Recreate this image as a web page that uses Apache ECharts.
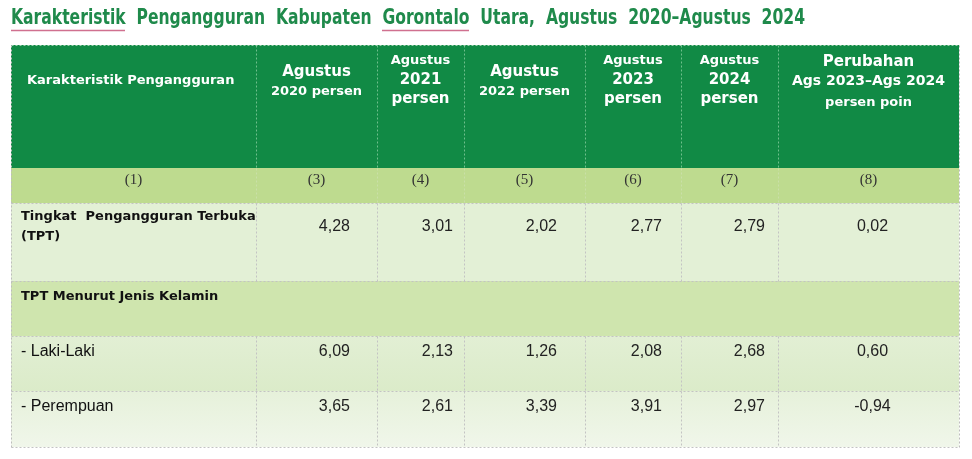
<!DOCTYPE html>
<html><head><meta charset="utf-8">
<script src="https://cdn.jsdelivr.net/npm/echarts@6/dist/echarts.min.js"></script>
<style>html,body{margin:0;padding:0;background:#fff}#c{width:972px;height:459px}</style>
</head><body><div id="c"></div>
<script>
// ---------- data ----------
const titleText = 'Karakteristik  Pengangguran  Kabupaten  Gorontalo  Utara,  Agustus  2020–Agustus  2024';
const headerLines = [
  ['Karakteristik Pengangguran'],
  ['Agustus', '2020 persen'],
  ['Agustus', '2021', 'persen'],
  ['Agustus', '2022 persen'],
  ['Agustus', '2023', 'persen'],
  ['Agustus', '2024', 'persen'],
  ['Perubahan', 'Ags 2023–Ags 2024', 'persen poin']
];
const columnNumbers = ['(1)', '(3)', '(4)', '(5)', '(6)', '(7)', '(8)'];
const rowLabels = ['Tingkat  Pengangguran Terbuka\n(TPT)', 'TPT Menurut Jenis Kelamin', '- Laki-Laki', '- Perempuan'];
const rowBold = [true, true, false, false];
const aug2020 = [4.28, null, 6.09, 3.65];
const aug2021 = [3.01, null, 2.13, 2.61];
const aug2022 = [2.02, null, 1.26, 3.39];
const aug2023 = [2.77, null, 2.08, 3.91];
const aug2024 = [2.79, null, 2.68, 2.97];
const changePts = [0.02, null, 0.60, -0.94];
const valueColumns = [aug2020, aug2021, aug2022, aug2023, aug2024, changePts];

// ---------- layout (table units) ----------
const colEdges = [0, 245, 366, 453, 574, 670, 767, 948];
const rowEdges = [0, 123, 158, 236, 291, 346, 402];
const textY = [35, 135, 182, 252, 307, 362];
const valueRightPad = [27, 11, 28, 19, 13];
const headerSizes = [['h13'], ['h15', 'h13'], ['h13', 'h15', 'h15'], ['h15', 'h13'], ['h13', 'h15', 'h15'], ['h13', 'h15', 'h15'], ['h15', 'h14', 'p13']];
const headerYOffset = [1, 2, 0, 2, 0, 0, 4];
const rowsWithVLines = [0, 1, 2, 4, 5];

const W = colEdges[colEdges.length - 1], H = rowEdges[rowEdges.length - 1];
const fmt = v => v == null ? '' : v.toFixed(2).replace('.', ',');
const grad = (a, b) => new echarts.graphic.LinearGradient(0, 0, 0, 1, [{offset: 0, color: a}, {offset: 1, color: b}]);
const rowFills = ['#118a45', '#bedb8f', '#e3f0d6', '#cfe5ae', grad('#e2efd4', '#dbebc9'), grad('#e6f1da', '#f0f6ea')];

// text cells
const cells = [];
headerLines.forEach((lines, c) => cells.push({col: c, row: 0, kind: 'head', lines, sizes: headerSizes[c]}));
columnNumbers.forEach((t, c) => cells.push({col: c, row: 1, kind: 'num', text: t}));
rowLabels.forEach((t, r) => cells.push({col: 0, row: r + 2, kind: 'label', text: t, bold: rowBold[r]}));
valueColumns.forEach((arr, k) => arr.forEach((v, r) => {
  if (v != null) cells.push({col: k + 1, row: r + 2, kind: k === 5 ? 'change' : 'value', text: fmt(v)});
}));

// lines
const segs = [];
rowsWithVLines.forEach(r => { for (let c = 1; c < colEdges.length - 1; c++) segs.push({type: r === 0 ? 'vh' : (r === 1 ? 'v1' : 'v'), x0: colEdges[c], x1: colEdges[c], y0: rowEdges[r], y1: rowEdges[r + 1]}); });
for (let r = 2; r < rowEdges.length - 1; r++) segs.push({type: 'h', x0: 0, x1: W, y0: rowEdges[r], y1: rowEdges[r]});
segs.push({type: 'ho', x0: 0, x1: W, y0: 0, y1: 0});
segs.push({type: 'vo', x0: 0, x1: 0, y0: 0, y1: H});
segs.push({type: 'vo', x0: W, x1: W, y0: 0, y1: H});
segs.push({type: 'h', x0: 0, x1: W, y0: H, y1: H});
const segStyle = {
  vh: {stroke: '#6fbf8c', lineWidth: 1, lineDash: [2, 2]},
  v1: {stroke: '#c9e0a8', lineWidth: 1, lineDash: [2, 2]},
  v: {stroke: '#c3c3c3', lineWidth: 1, lineDash: [2, 2]},
  h: {stroke: '#c3c3c3', lineWidth: 1, lineDash: [2, 2]},
  ho: {stroke: '#9fd0b0', lineWidth: 1, lineDash: [2, 2]},
  vo: {stroke: '#bdbdbd', lineWidth: 1, lineDash: [2, 2]}
};

const hf = 'DejaVu Sans';
const rich = {
  h13: {fontSize: 13, fontWeight: 'bold', fontFamily: hf, lineHeight: 19, color: '#fff'},
  h14: {fontSize: 14, fontWeight: 'bold', fontFamily: hf, lineHeight: 19, color: '#fff'},
  h15: {fontSize: 15, fontWeight: 'bold', fontFamily: hf, lineHeight: 19, color: '#fff'},
  p13: {fontSize: 13, fontWeight: 'bold', fontFamily: hf, lineHeight: 24, color: '#fff'}
};

const chart = echarts.init(document.getElementById('c'));
chart.setOption({
  animation: false,
  backgroundColor: '#ffffff',
  grid: {left: 11, top: 45, width: W, height: H},
  xAxis: {type: 'value', min: 0, max: W, show: false},
  yAxis: {type: 'value', min: 0, max: H, inverse: true, show: false},
  series: [
    {
      type: 'custom', clip: false, silent: true,
      data: rowFills.map((f, i) => [0, i]),
      renderItem(params, api) {
        const i = params.dataIndex;
        const p0 = api.coord([0, rowEdges[i]]), p1 = api.coord([W, rowEdges[i + 1]]);
        return {type: 'rect', shape: {x: p0[0], y: p0[1], width: p1[0] - p0[0], height: p1[1] - p0[1]}, style: {fill: rowFills[i]}};
      }
    },
    {
      type: 'custom', clip: false, silent: true,
      data: segs.map(s => [s.x0, s.y0]),
      renderItem(params, api) {
        const s = segs[params.dataIndex];
        const a = api.coord([s.x0, s.y0]), b = api.coord([s.x1, s.y1]);
        return {type: 'line', shape: {x1: Math.round(a[0]) + 0.5, y1: Math.round(a[1]) + 0.5, x2: Math.round(b[0]) + 0.5, y2: Math.round(b[1]) + 0.5}, style: segStyle[s.type]};
      }
    },
    {
      type: 'custom', clip: false, silent: true,
      data: cells.map(c => [colEdges[c.col], textY[c.row]]),
      renderItem(params, api) {
        const c = cells[params.dataIndex];
        const xl = api.coord([colEdges[c.col], 0])[0], xr = api.coord([colEdges[c.col + 1], 0])[0];
        const y = api.coord([0, textY[c.row]])[1];
        if (c.kind === 'head') {
          const txt = c.lines.map((l, j) => '{' + c.sizes[j] + '|' + l + '}').join('\n');
          const left = c.col === 0;
          return {type: 'text', style: {text: txt, rich, x: left ? xl + 16 : (xl + xr) / 2, y: y + headerYOffset[c.col], align: left ? 'left' : 'center', verticalAlign: 'middle', fill: '#fff'}};
        }
        if (c.kind === 'num') {
          return {type: 'text', style: {text: c.text, x: (xl + xr) / 2, y, align: 'center', verticalAlign: 'middle', fill: '#333', fontFamily: 'Liberation Serif', fontSize: 15}};
        }
        if (c.kind === 'label') {
          return {type: 'text', style: {text: c.text, x: xl + 10, y, align: 'left', verticalAlign: 'middle', fill: '#111', lineHeight: 20,
            fontFamily: c.bold ? 'DejaVu Sans' : 'Liberation Sans', fontWeight: c.bold ? 'bold' : 'normal', fontSize: c.bold ? 13 : 16}};
        }
        if (c.kind === 'value') {
          return {type: 'text', style: {text: c.text, x: xr - valueRightPad[c.col - 1], y, align: 'right', verticalAlign: 'middle', fill: '#222', fontFamily: 'Liberation Sans', fontSize: 16}};
        }
        return {type: 'text', style: {text: c.text, x: (xl + xr) / 2 + 4, y, align: 'center', verticalAlign: 'middle', fill: '#222', fontFamily: 'Liberation Sans', fontSize: 16}};
      }
    }
  ],
  graphic: [
    {type: 'text', x: 11, y: 19, scaleX: 0.825, style: {text: titleText, fontFamily: 'Liberation Sans Narrow, DejaVu Sans Condensed, sans-serif', fontWeight: 'bold', fontSize: 21, fill: '#1f8a4b', verticalAlign: 'middle', align: 'left'}},
    {type: 'line', shape: {x1: 11, y1: 30.5, x2: 125, y2: 30.5}, style: {stroke: '#d0708f', lineWidth: 1.3}},
    {type: 'line', shape: {x1: 382, y1: 30.5, x2: 469, y2: 30.5}, style: {stroke: '#d0708f', lineWidth: 1.3}},
    {type: 'line', shape: {x1: 27, y1: 90.5, x2: 121, y2: 90.5}, style: {stroke: '#b06a5a', lineWidth: 1.2}},
    {type: 'line', shape: {x1: 795, y1: 91.5, x2: 826, y2: 91.5}, style: {stroke: '#b06a5a', lineWidth: 1}},
    {type: 'line', shape: {x1: 876, y1: 92.5, x2: 906, y2: 92.5}, style: {stroke: '#b06a5a', lineWidth: 1}},
    {type: 'line', shape: {x1: 880, y1: 110.5, x2: 915, y2: 110.5}, style: {stroke: '#b06a5a', lineWidth: 1}},
    {type: 'line', shape: {x1: 827.5, y1: 51, x2: 827.5, y2: 66}, style: {stroke: '#d07090', lineWidth: 1.2}}
  ]
});
</script></body></html>
